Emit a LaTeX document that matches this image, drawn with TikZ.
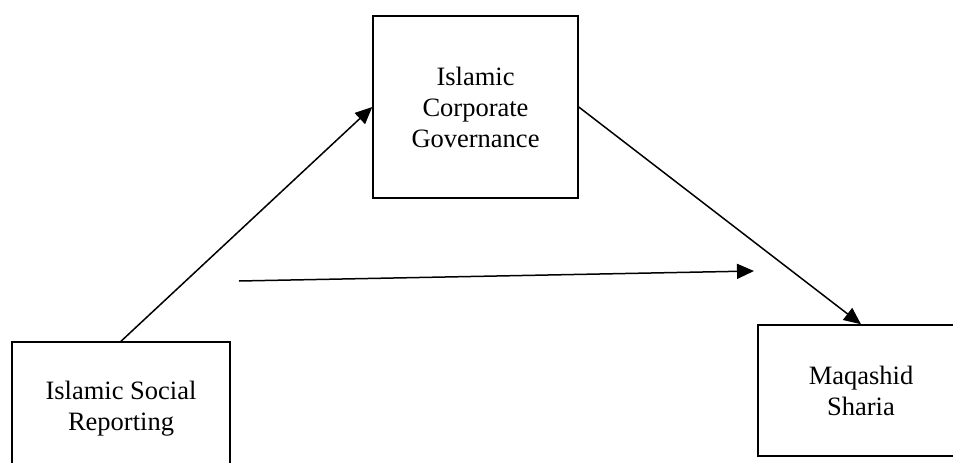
\documentclass[tikz,border=0pt]{standalone}
\usepackage{fontspec}
\setmainfont{Liberation Serif}
\usetikzlibrary{arrows.meta}
\begin{document}
\begin{tikzpicture}[x=1pt,y=-1pt,
  box/.style={draw=black,line width=1.5pt,rectangle,align=center,inner sep=0pt,
    font=\fontsize{26.5}{31}\selectfont},
  conn/.style={line width=1.5pt,-{Triangle[length=17pt,width=15pt]}}]
\useasboundingbox (0,0) rectangle (953,463);
\clip (0,0) rectangle (953,463);
\fill[white] (0,0) rectangle (953,463);
\node[box,minimum width=205pt,minimum height=182pt] (icg) at (475.5,107) {Islamic\\Corporate\\Governance};
\node[box,minimum width=218pt,minimum height=134pt] (isr) at (121,409) {Islamic Social\\Reporting};
\node[box,minimum width=206pt,minimum height=131pt] (ms) at (861,390.5) {Maqashid\\Sharia};
\coordinate (hs) at (239,281);
\coordinate (he) at (754,271);
\draw[conn] (isr.north) -- (icg.west);
\draw[conn] (icg.east) -- (ms.north);
\draw[conn] (hs) -- (he);
\end{tikzpicture}
\end{document}
